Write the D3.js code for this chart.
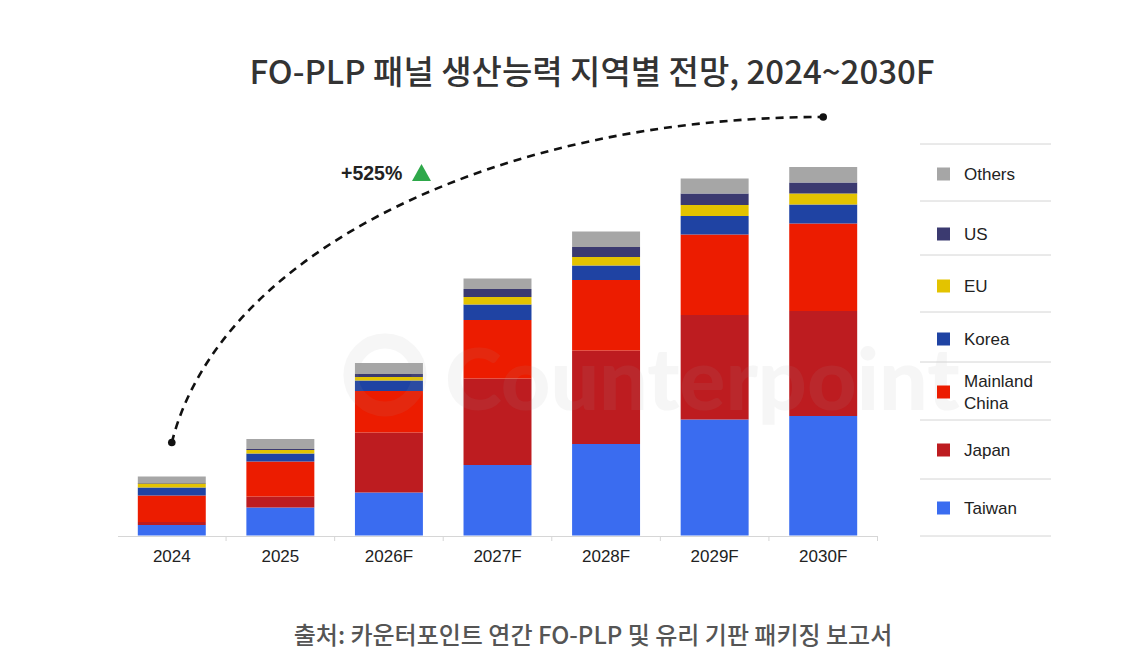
<!DOCTYPE html>
<html><head><meta charset="utf-8">
<script src="https://cdn.jsdelivr.net/npm/d3@7"></script>
<style>
html,body{margin:0;padding:0;background:#fff;}
svg{display:block;}
</style></head>
<body>
<script>
// ---- data ----
const years = ["2024","2025","2026F","2027F","2028F","2029F","2030F"];
const regions = ["Taiwan","Japan","Mainland China","Korea","EU","US","Others"];
const taiwan  = [10.5, 28, 43, 70.5, 91.5, 116, 119.5];
const japan   = [3, 11, 60, 86.5, 93.5, 104.5, 105];
const china   = [26.5, 35, 41.5, 58.5, 70.5, 80.5, 87.5];
const korea   = [8, 8, 10.5, 15.5, 14.5, 18.5, 19];
const eu      = [4, 3.5, 3.5, 7.5, 8.5, 11, 11];
const us      = [0.5, 1, 3, 8, 10, 11.5, 11];
const others  = [6.5, 10, 11, 10.5, 15.5, 15, 15.5];
const colors  = ["#3a6cf0","#bd1c20","#ec1c00","#1f43a3","#e3c300","#3b3a70","#a6a6a6"];
const legendOrder = ["Others","US","EU","Korea","Mainland China","Japan","Taiwan"];
const title = "FO-PLP 패널 생산능력 지역별 전망, 2024~2030F";
const source = "출처: 카운터포인트 연간 FO-PLP 및 유리 기판 패키징 보고서";
const growthLabel = "+525%";

const W = 1122, H = 661;
const svg = d3.select("body").append("svg").attr("width", W).attr("height", H);

const series = [taiwan, japan, china, korea, eu, us, others];
const rows = years.map((y, i) => {
  const r = {year: y};
  regions.forEach((k, j) => r[k] = series[j][i]);
  return r;
});
const stacked = d3.stack().keys(regions)(rows);

const x = d3.scaleBand().domain(years).range([117.5, 877.5]).paddingInner(0.374).paddingOuter(0.187);
const y = d3.scaleLinear().domain([0, 400]).range([535.5, 135.5]);
const color = d3.scaleOrdinal().domain(regions).range(colors);

// title
svg.append("text").attr("x", 592).attr("y", 84).attr("text-anchor", "middle")
  .attr("font-family", "'Noto Sans CJK KR','Noto Sans',sans-serif").attr("font-weight", 500)
  .attr("font-size", 33).attr("fill", "#333").text(title);

// bars
const g = svg.append("g");
g.selectAll("g.s").data(stacked).join("g").attr("fill", d => color(d.key))
  .selectAll("rect").data(d => d).join("rect")
  .attr("x", d => x(d.data.year)).attr("width", x.bandwidth())
  .attr("y", d => y(d[1])).attr("height", d => y(d[0]) - y(d[1]));

// watermark
const wm = svg.append("g").attr("opacity", 0.09);
wm.append("text").attr("x", 445).attr("y", 410)
  .attr("font-family", "Lato, 'Open Sans', sans-serif").attr("font-weight", 900)
  .attr("font-size", 86).attr("fill", "#a0a0a0").text("Counterpoint");
wm.append("circle").attr("cx", 385).attr("cy", 375).attr("r", 34)
  .attr("fill", "none").attr("stroke", "#a0a0a0").attr("stroke-width", 15);

// x axis
const axis = svg.append("g").attr("transform", "translate(0,536)")
  .call(d3.axisBottom(x).tickSize(0).tickPadding(14));
axis.select(".domain").attr("stroke", "#d6d6d6").attr("stroke-width", 1.2);
axis.selectAll("text").attr("font-family", "'Liberation Sans', Arial, sans-serif")
  .attr("font-size", 17).attr("fill", "#222");
// category separator ticks
const seps = years.slice(1).map(d => x(d) - x.step() * x.paddingInner() / 2).concat([877.5]);
axis.selectAll("line.sep").data(seps).join("line").attr("class", "sep")
  .attr("x1", d => d).attr("x2", d => d).attr("y1", 0).attr("y2", 5)
  .attr("stroke", "#d6d6d6");

// growth curve
const t0 = stacked[stacked.length - 1][0][1], t1 = stacked[stacked.length - 1][6][1];
const p0 = [x(years[0]) + x.bandwidth() / 2, y(t0) - 34];
const p3 = [x(years[6]) + x.bandwidth() / 2, y(t1) - 50];
const path = d3.path();
path.moveTo(p0[0], p0[1]);
path.bezierCurveTo(p0[0] + 49, p0[1] - 193, p3[0] - 322, p3[1], p3[0], p3[1]);
svg.append("path").attr("d", path.toString()).attr("fill", "none")
  .attr("stroke", "#111").attr("stroke-width", 2.6).attr("stroke-dasharray", "8,6");
svg.selectAll("circle.end").data([p0, p3]).join("circle").attr("class", "end")
  .attr("cx", d => d[0]).attr("cy", d => d[1]).attr("r", 3.8).attr("fill", "#111");

svg.append("text").attr("x", 341).attr("y", 180)
  .attr("font-family", "'Liberation Sans', Arial, sans-serif").attr("font-weight", 700)
  .attr("font-size", 19.5).attr("fill", "#222").text(growthLabel);
svg.append("path").attr("d", "M412,181 L421.5,164 L431,181 Z").attr("fill", "#2ea84a");

// legend
const lineYs = [144, 201, 255, 312, 362, 420, 479, 536];
const textYs = [[174], [234], [286], [339], [381, 403], [450], [508]];
const lg = svg.append("g");
lg.selectAll("line").data(lineYs).join("line")
  .attr("x1", 920).attr("x2", 1051).attr("y1", d => d).attr("y2", d => d)
  .attr("stroke", "#d4d4d4").attr("stroke-width", 1);
legendOrder.forEach((k, i) => {
  const ty = textYs[i];
  const cy = d3.mean(ty);
  lg.append("rect").attr("x", 937).attr("y", cy - 6.5).attr("width", 13).attr("height", 13)
    .attr("fill", color(k));
  const words = k === "Mainland China" ? ["Mainland", "China"] : [k];
  words.forEach((w, j) => {
    lg.append("text").attr("x", 964).attr("y", ty[j]).attr("dy", "0.35em")
      .attr("font-family", "'Liberation Sans', Arial, sans-serif").attr("font-size", 17)
      .attr("fill", "#222").text(w);
  });
});

// source
svg.append("text").attr("x", 593).attr("y", 644).attr("text-anchor", "middle")
  .attr("font-family", "'Noto Sans CJK KR','Noto Sans',sans-serif").attr("font-weight", 500)
  .attr("font-size", 24).attr("fill", "#555").text(source);
</script>
</body></html>
